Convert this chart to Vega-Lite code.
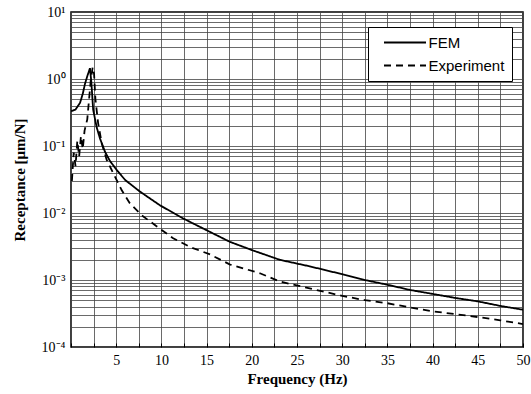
{
  "$schema": "https://vega.github.io/schema/vega-lite/v6.json",
  "width": 452,
  "height": 335,
  "autosize": "none",
  "padding": {"left": 71, "top": 12, "right": 8, "bottom": 47},
  "background": "white",
  "config": {
    "view": {"stroke": "black", "strokeWidth": 1.5},
    "font": "Liberation Serif"
  },
  "data": {
    "values": [
      {"f": 0.0, "r": 0.33, "s": "FEM"},
      {"f": 0.5, "r": 0.35, "s": "FEM"},
      {"f": 1.0, "r": 0.44, "s": "FEM"},
      {"f": 1.3, "r": 0.6, "s": "FEM"},
      {"f": 1.55, "r": 0.85, "s": "FEM"},
      {"f": 1.8, "r": 1.1, "s": "FEM"},
      {"f": 2.1, "r": 1.45, "s": "FEM"},
      {"f": 2.25, "r": 0.9, "s": "FEM"},
      {"f": 2.45, "r": 0.35, "s": "FEM"},
      {"f": 2.84, "r": 0.19, "s": "FEM"},
      {"f": 3.2, "r": 0.13, "s": "FEM"},
      {"f": 3.76, "r": 0.082, "s": "FEM"},
      {"f": 4.3, "r": 0.06, "s": "FEM"},
      {"f": 5.05, "r": 0.044, "s": "FEM"},
      {"f": 6.0, "r": 0.031, "s": "FEM"},
      {"f": 7.6, "r": 0.021, "s": "FEM"},
      {"f": 9.85, "r": 0.013, "s": "FEM"},
      {"f": 12.4, "r": 0.0083, "s": "FEM"},
      {"f": 15.4, "r": 0.0052, "s": "FEM"},
      {"f": 17.6, "r": 0.0037, "s": "FEM"},
      {"f": 20.0, "r": 0.0028, "s": "FEM"},
      {"f": 23.1, "r": 0.002, "s": "FEM"},
      {"f": 26.4, "r": 0.0016, "s": "FEM"},
      {"f": 30.0, "r": 0.00122, "s": "FEM"},
      {"f": 32.5, "r": 0.001, "s": "FEM"},
      {"f": 35.0, "r": 0.00085, "s": "FEM"},
      {"f": 37.5, "r": 0.00071, "s": "FEM"},
      {"f": 40.0, "r": 0.00062, "s": "FEM"},
      {"f": 42.5, "r": 0.00054, "s": "FEM"},
      {"f": 45.0, "r": 0.00048, "s": "FEM"},
      {"f": 47.5, "r": 0.00041, "s": "FEM"},
      {"f": 50.0, "r": 0.00036, "s": "FEM"},
      {"f": 0.1, "r": 0.03, "s": "Experiment"},
      {"f": 0.3, "r": 0.08, "s": "Experiment"},
      {"f": 0.5, "r": 0.05, "s": "Experiment"},
      {"f": 0.7, "r": 0.12, "s": "Experiment"},
      {"f": 0.9, "r": 0.07, "s": "Experiment"},
      {"f": 1.1, "r": 0.14, "s": "Experiment"},
      {"f": 1.3, "r": 0.09, "s": "Experiment"},
      {"f": 1.5, "r": 0.17, "s": "Experiment"},
      {"f": 1.8, "r": 0.25, "s": "Experiment"},
      {"f": 2.0, "r": 0.5, "s": "Experiment"},
      {"f": 2.2, "r": 1.0, "s": "Experiment"},
      {"f": 2.4, "r": 1.5, "s": "Experiment"},
      {"f": 2.55, "r": 1.2, "s": "Experiment"},
      {"f": 2.7, "r": 0.5, "s": "Experiment"},
      {"f": 3.0, "r": 0.22, "s": "Experiment"},
      {"f": 3.4, "r": 0.11, "s": "Experiment"},
      {"f": 3.95, "r": 0.062, "s": "Experiment"},
      {"f": 4.68, "r": 0.039, "s": "Experiment"},
      {"f": 5.6, "r": 0.022, "s": "Experiment"},
      {"f": 6.5, "r": 0.014, "s": "Experiment"},
      {"f": 7.8, "r": 0.0093, "s": "Experiment"},
      {"f": 9.5, "r": 0.0063, "s": "Experiment"},
      {"f": 11.3, "r": 0.0042, "s": "Experiment"},
      {"f": 13.2, "r": 0.0031, "s": "Experiment"},
      {"f": 15.4, "r": 0.0024, "s": "Experiment"},
      {"f": 17.6, "r": 0.0017, "s": "Experiment"},
      {"f": 20.9, "r": 0.00126, "s": "Experiment"},
      {"f": 23.1, "r": 0.00095, "s": "Experiment"},
      {"f": 26.4, "r": 0.00075, "s": "Experiment"},
      {"f": 30.0, "r": 0.00058, "s": "Experiment"},
      {"f": 32.5, "r": 0.0005, "s": "Experiment"},
      {"f": 35.0, "r": 0.00045, "s": "Experiment"},
      {"f": 37.5, "r": 0.00039, "s": "Experiment"},
      {"f": 40.0, "r": 0.00034, "s": "Experiment"},
      {"f": 42.5, "r": 0.00031, "s": "Experiment"},
      {"f": 45.0, "r": 0.00028, "s": "Experiment"},
      {"f": 47.5, "r": 0.00025, "s": "Experiment"},
      {"f": 50.0, "r": 0.00022, "s": "Experiment"}
    ]
  },
  "mark": {"type": "line", "color": "black", "strokeWidth": 1.8, "clip": true},
  "encoding": {
    "x": {
      "field": "f",
      "type": "quantitative",
      "scale": {"domain": [0, 50], "nice": false, "zero": false},
      "axis": {
        "title": "Frequency (Hz)",
        "titleFont": "Liberation Serif",
        "titleFontSize": 15,
        "titleFontWeight": "bold",
        "titleColor": "black",
        "titlePadding": 4,
        "values": [0, 2.5, 5, 7.5, 10, 12.5, 15, 17.5, 20, 22.5, 25, 27.5, 30, 32.5, 35, 37.5, 40, 42.5, 45, 47.5, 50],
        "labelExpr": "(datum.value > 0 && datum.value % 5 == 0) ? datum.label : ''",
        "labelFont": "Liberation Serif",
        "labelFontSize": 14,
        "labelColor": "black",
        "labelPadding": 10,
        "labelFlush": false,
        "labelOverlap": false,
        "ticks": true,
        "tickSize": -4,
        "tickColor": "black",
        "domain": false,
        "grid": true,
        "gridColor": "#444",
        "gridWidth": 0.8
      }
    },
    "y": {
      "field": "r",
      "type": "quantitative",
      "scale": {"type": "log", "domain": [0.0001, 10], "nice": false},
      "axis": {
        "title": "Receptance [μm/N]",
        "titleFont": "Liberation Serif",
        "titleFontSize": 15,
        "titleFontWeight": "bold",
        "titleColor": "black",
        "titlePadding": 14,
        "values": [0.0001, 0.0002, 0.0003, 0.0004, 0.0005, 0.0006, 0.0007, 0.0008, 0.0009, 0.001, 0.002, 0.003, 0.004, 0.005, 0.006, 0.007, 0.008, 0.009, 0.01, 0.02, 0.03, 0.04, 0.05, 0.06, 0.07, 0.08, 0.09, 0.1, 0.2, 0.3, 0.4, 0.5, 0.6, 0.7, 0.8, 0.9, 1, 2, 3, 4, 5, 6, 7, 8, 9, 10],
        "labelExpr": "datum.value == 10 ? '10¹' : datum.value == 1 ? '10⁰' : datum.value == 0.1 ? '10⁻¹' : datum.value == 0.01 ? '10⁻²' : datum.value == 0.001 ? '10⁻³' : datum.value == 0.0001 ? '10⁻⁴' : ''",
        "labelFont": "Liberation Serif",
        "labelFontSize": 14,
        "labelColor": "black",
        "labelPadding": 6,
        "labelFlush": false,
        "labelOverlap": false,
        "ticks": false,
        "domain": false,
        "grid": true,
        "gridColor": "#444",
        "gridWidth": 0.8
      }
    },
    "strokeDash": {
      "field": "s",
      "type": "nominal",
      "scale": {"domain": ["FEM", "Experiment"], "range": [[1, 0], [7, 5]]},
      "legend": {
        "title": null,
        "orient": "none",
        "legendX": 297,
        "legendY": 15,
        "fillColor": "white",
        "strokeColor": "black",
        "padding": 7,
        "symbolType": "M-2.8,0L2.8,0",
        "symbolSize": 225,
        "symbolOffset": 21.5,
        "symbolStrokeWidth": 1.8,
        "symbolStrokeColor": "black",
        "symbolFillColor": "transparent",
        "labelOffset": 15,
        "labelFont": "Liberation Sans",
        "labelFontSize": 15,
        "labelColor": "black",
        "rowPadding": 6,
        "labelLimit": 200
      }
    }
  }
}
